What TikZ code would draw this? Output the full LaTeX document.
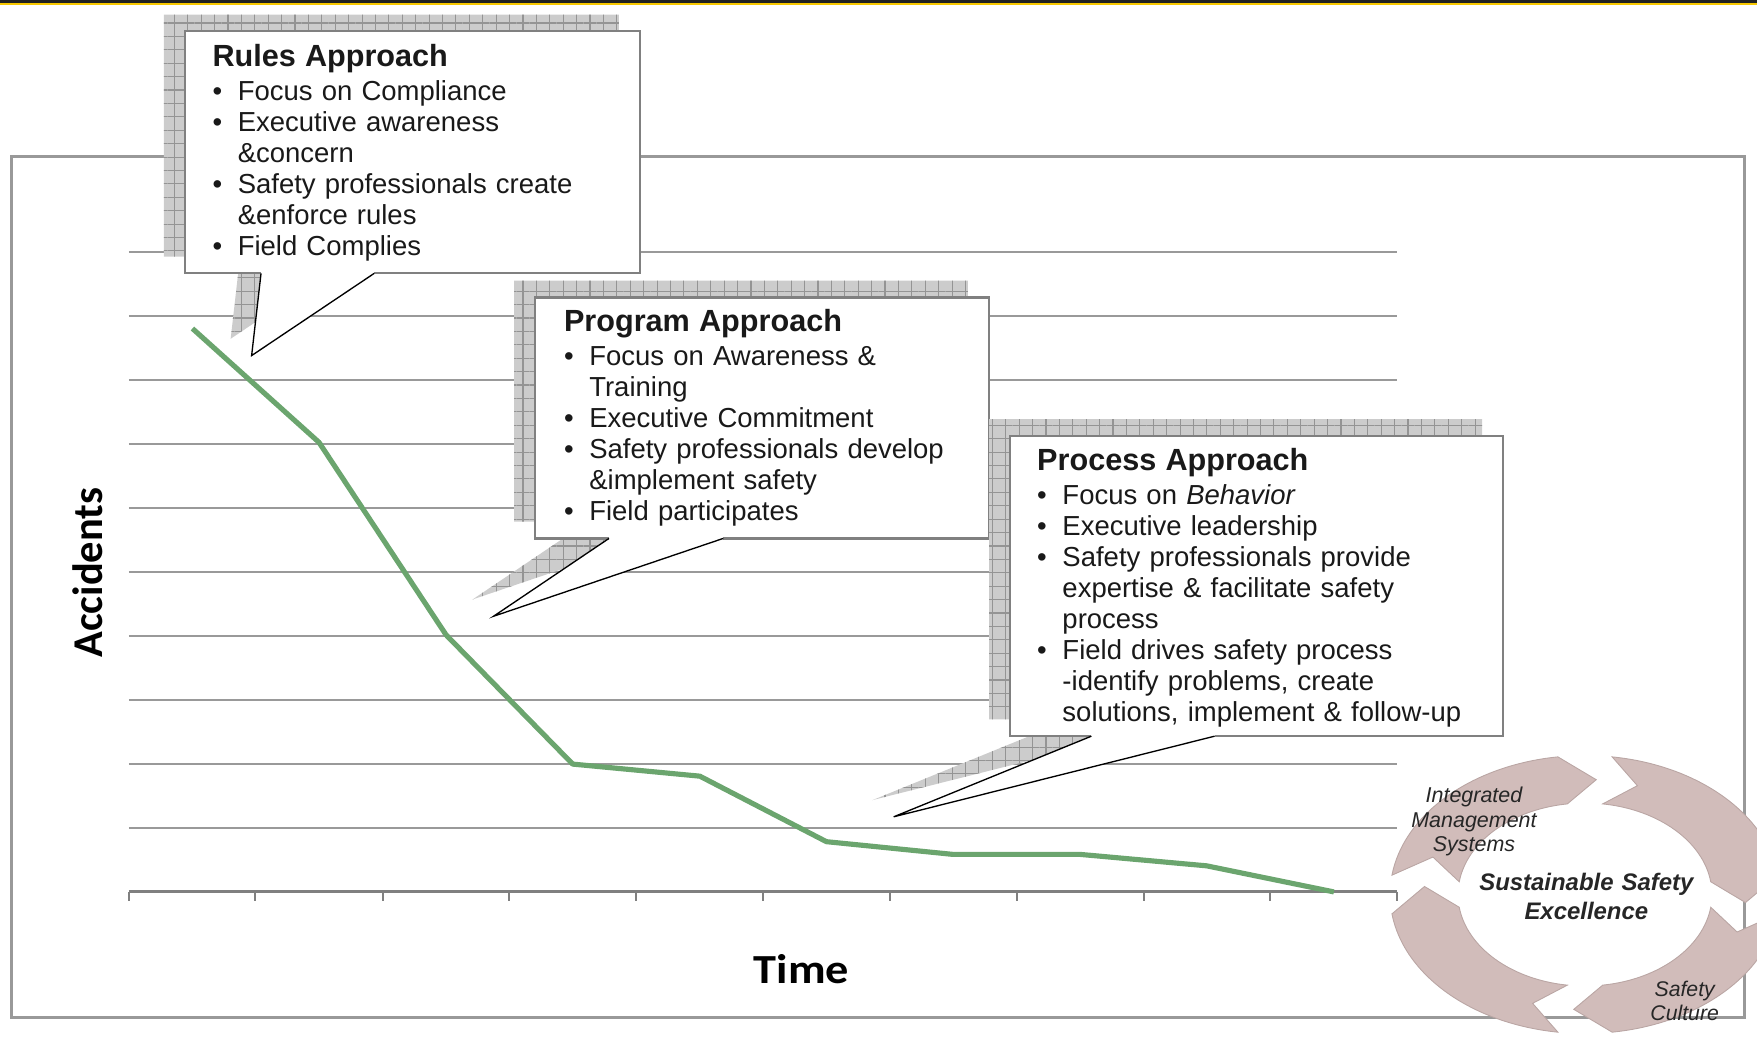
\documentclass[tikz,border=0pt]{standalone}
\usepackage{fontspec}
\setmainfont{Liberation Sans}
\newfontfamily\calibri{Carlito}
\usetikzlibrary{patterns.meta}
\setlength{\parindent}{0pt}
\definecolor{trend}{RGB}{107,165,110}
\definecolor{ringfill}{RGB}{209,188,186}
\definecolor{ringedge}{RGB}{186,166,164}
\definecolor{barblack}{RGB}{34,34,34}
\definecolor{baryellow}{RGB}{248,200,0}
% callout heading and bullet item with hanging indent
\newcommand{\headline}[1]{{\fontsize{13.7}{15}\selectfont\bfseries #1}\par\vspace{1.3pt}}
\newcommand{\itm}[1]{\par\hangindent=11.3pt\hangafter=1\noindent\makebox[11.3pt][l]{\textbullet}#1}

\begin{document}
\begin{tikzpicture}[
	gridline/.style={black!40, line width=0.9pt},
	axisline/.style={black!50, line width=1.3pt},
	trendline/.style={trend, line width=2.3pt, line join=round},
	shadowbox/.style={preaction={fill=black!20}, pattern={Hatch[angle=0,distance=6pt,line width=0.5pt]}, pattern color=black!42},
	boxedge/.style={black!50, line width=1pt},
	pointeredge/.style={black, line width=0.6pt},
	boxtext/.style={anchor=base west, inner sep=0pt, text width=7cm, align=left, text=black!90, font=\fontsize{12.3}{13.9}\selectfont},
	ringarrow/.style={fill=ringfill, draw=ringedge, line width=0.4pt},
	ringtext/.style={anchor=base, inner sep=0pt, text width=3.5cm, align=center, text=black!85}
	]
		\useasboundingbox (-2.026,-2.573) rectangle (25.604,14.026);
		\clip (-2.026,-2.573) rectangle (25.604,14.026);

		% top bar
		\fill[barblack] (-2.026,13.975) rectangle (25.604,14.026);
		\fill[baryellow] (-2.026,13.950) rectangle (25.604,13.975);

		% frame
		\draw[black!40, line width=1.4pt] (-1.850,-1.974) rectangle (25.410,11.559);

		% chart grid
		\draw[gridline] (0,1.00) -- (19.95,1.00);
		\draw[gridline] (0,2.01) -- (19.95,2.01);
		\draw[gridline] (0,3.02) -- (19.95,3.02);
		\draw[gridline] (0,4.02) -- (19.95,4.02);
		\draw[gridline] (0,5.03) -- (19.95,5.03);
		\draw[gridline] (0,6.04) -- (19.95,6.04);
		\draw[gridline] (0,7.05) -- (19.95,7.05);
		\draw[gridline] (0,8.05) -- (19.95,8.05);
		\draw[gridline] (0,9.06) -- (19.95,9.06);
		\draw[gridline] (0,10.06) -- (19.95,10.06);
		\draw[axisline] (0,0) -- (19.95,0);
		\draw[axisline, line width=0.9pt] (0,0) -- (0,-0.14) (1.99,0) -- (1.99,-0.14)
			(3.99,0) -- (3.99,-0.14) (5.98,0) -- (5.98,-0.14) (7.98,0) -- (7.98,-0.14)
			(9.97,0) -- (9.97,-0.14) (11.97,0) -- (11.97,-0.14) (13.96,0) -- (13.96,-0.14)
			(15.96,0) -- (15.96,-0.14) (17.95,0) -- (17.95,-0.14) (19.95,0) -- (19.95,-0.14);

		% accidents over time
		\draw[trendline] (1.00,8.86) -- (2.99,7.07) -- (4.99,4.04) -- (6.98,2.01) -- (8.98,1.82)
			-- (10.97,0.79) -- (12.96,0.59) -- (14.96,0.59) -- (16.95,0.41) -- (18.95,0);

		\node[font=\calibri\bfseries\fontsize{19}{22}\selectfont, rotate=90] (accidents) at (-0.652,5.02) {Accidents};
		\node[font=\calibri\bfseries\fontsize{18.5}{22}\selectfont, anchor=base] (time) at (10.58,-1.44) {\scalebox{1.12}[1]{Time}};

		% rules callout
		\coordinate (rulestip) at (1.931,8.434);
		\fill[shadowbox, shift={(-0.33,0.264)}] (0.881,13.533) -- (8.035,13.533) -- (8.035,9.727) -- (3.859,9.727) -- (1.931,8.434) -- (2.079,9.727) -- (0.881,9.727) -- cycle;
		\fill[white] (0.881,13.533) -- (8.035,13.533) -- (8.035,9.727) -- (3.859,9.727) -- (rulestip) -- (2.079,9.727) -- (0.881,9.727) -- cycle;
		\draw[boxedge] (2.079,9.727) -- (0.881,9.727) -- (0.881,13.533) -- (8.035,13.533) -- (8.035,9.727) -- (3.859,9.727);
		\draw[pointeredge] (3.859,9.727) -- (rulestip) -- (2.079,9.727);
		\node[boxtext] (rules) at (1.309,12.978) {\headline{Rules Approach}
			\itm{Focus on Compliance}
			\itm{Executive awareness\newline \&concern}
			\itm{Safety professionals create\newline \&enforce rules}
			\itm{Field Complies}\par};

		% program callout
		\coordinate (programtip) at (5.736,4.335);
		\fill[shadowbox, shift={(-0.33,0.264)}] (6.388,9.348) -- (13.524,9.348) -- (13.524,5.559) -- (9.348,5.559) -- (5.736,4.335) -- (7.551,5.559) -- (6.388,5.559) -- cycle;
		\fill[white] (6.388,9.348) -- (13.524,9.348) -- (13.524,5.559) -- (9.348,5.559) -- (programtip) -- (7.551,5.559) -- (6.388,5.559) -- cycle;
		\draw[boxedge] (7.551,5.559) -- (6.388,5.559) -- (6.388,9.348) -- (13.524,9.348) -- (13.524,5.559) -- (9.348,5.559);
		\draw[pointeredge] (9.348,5.559) -- (programtip) -- (7.551,5.559);
		\node[boxtext] (program) at (6.837,8.811) {\headline{Program Approach}
			\itm{Focus on Awareness \&\newline Training}
			\itm{Executive Commitment}
			\itm{Safety professionals develop\newline \&implement safety}
			\itm{Field participates}\par};

		% process callout
		\coordinate (processtip) at (12.028,1.181);
		\fill[shadowbox, shift={(-0.33,0.264)}] (13.859,7.172) -- (21.612,7.172) -- (21.612,2.449) -- (17.075,2.449) -- (12.028,1.181) -- (15.137,2.449) -- (13.859,2.449) -- cycle;
		\fill[white] (13.859,7.172) -- (21.612,7.172) -- (21.612,2.449) -- (17.075,2.449) -- (processtip) -- (15.137,2.449) -- (13.859,2.449) -- cycle;
		\draw[boxedge] (15.137,2.449) -- (13.859,2.449) -- (13.859,7.172) -- (21.612,7.172) -- (21.612,2.449) -- (17.075,2.449);
		\draw[pointeredge] (17.075,2.449) -- (processtip) -- (15.137,2.449);
		\node[boxtext] (process) at (14.278,6.634) {\headline{Process Approach}
			\itm{Focus on \textit{Behavior}}
			\itm{Executive leadership}
			\itm{Safety professionals provide\newline expertise \& facilitate safety\newline process}
			\itm{Field drives safety process\newline -identify problems, create\newline solutions, implement \& follow-up}\par};

		% cycle of four arrows
		\begin{scope}[shift={(22.899,-0.041)}]
		\draw[ringarrow] (172:3.066 and 2.186) arc[start angle=172, end angle=98, x radius=3.066, y radius=2.186]
			-- (86:2.53 and 1.81) -- (98:1.997 and 1.439) arc[start angle=98, end angle=172, x radius=1.997, y radius=1.439]
			-- (161:2.53 and 1.81) -- cycle;
		\draw[ringarrow] (82:3.066 and 2.186) arc[start angle=82, end angle=8, x radius=3.066, y radius=2.186]
			-- (-4:2.53 and 1.81) -- (8:1.997 and 1.439) arc[start angle=8, end angle=82, x radius=1.997, y radius=1.439]
			-- (71:2.53 and 1.81) -- cycle;
		\draw[ringarrow] (-8:3.066 and 2.186) arc[start angle=-8, end angle=-82, x radius=3.066, y radius=2.186]
			-- (-94:2.53 and 1.81) -- (-82:1.997 and 1.439) arc[start angle=-82, end angle=-8, x radius=1.997, y radius=1.439]
			-- (-19:2.53 and 1.81) -- cycle;
		\draw[ringarrow] (-98:3.066 and 2.186) arc[start angle=-98, end angle=-172, x radius=3.066, y radius=2.186]
			-- (-184:2.53 and 1.81) -- (-172:1.997 and 1.439) arc[start angle=-172, end angle=-98, x radius=1.997, y radius=1.439]
			-- (-109:2.53 and 1.81) -- cycle;
		\end{scope}

		\node[ringtext, font=\itshape\fontsize{9.6}{11}\selectfont] (ims) at (21.153,1.403) {Integrated\\Management\\Systems};
		\node[ringtext, font=\bfseries\itshape\fontsize{10.7}{13}\selectfont] (sse) at (22.92,0.018) {Sustainable Safety\\Excellence};
		\node[ringtext, font=\itshape\fontsize{9.5}{10.5}\selectfont] (culture) at (24.467,-1.648) {Safety\\Culture};
	\end{tikzpicture}
\end{document}
